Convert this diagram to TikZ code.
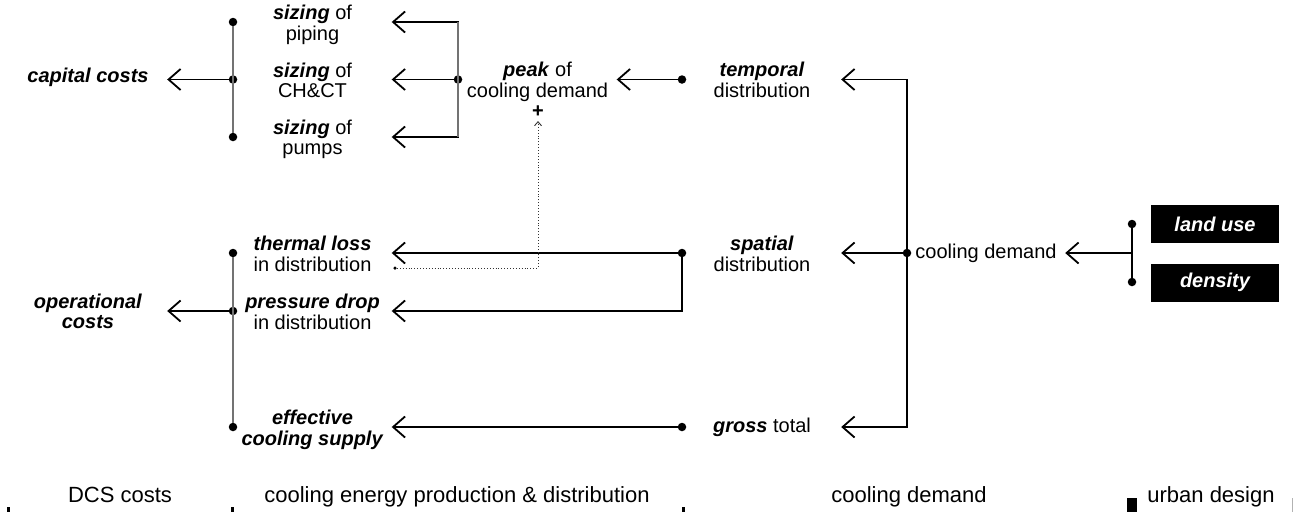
\documentclass[tikz,border=0pt]{standalone}
\usepackage{fontspec}
\setmainfont{Liberation Sans}
\usetikzlibrary{arrows.meta,calc}
\newcommand{\bfit}[1]{\textbf{\textit{#1}}}
\begin{document}
\begin{tikzpicture}[x=1pt,y=-1pt,
  lbl/.style={font=\fontsize{20}{20}\selectfont, align=center, minimum width=158pt, inner sep=0pt},
  dot/.style={circle,fill=black,inner sep=0pt,minimum size=8.5pt},
  sdot/.style={circle,fill=black,inner sep=0pt,minimum size=3.5pt},
  arr/.style={line width=1.2pt,-{Straight Barb[length=12pt,width=21pt,line width=1.8pt]}},
  vline/.style={line width=1.5pt,black!55},
  lnk/.style={line width=1.2pt},
  dotl/.style={dotted,line width=0.9pt,black!80,-{Straight Barb[length=4pt,width=7pt,line width=0.9pt]}},
  box/.style={fill=black,text=white,font=\fontsize{20}{20}\selectfont\bfseries\itshape,minimum width=128pt,minimum height=38pt,inner sep=0pt},
  bot/.style={font=\fontsize{22}{22}\selectfont,anchor=base},
  tick/.style={fill=black,draw=none}]
\useasboundingbox (0,0) rectangle (1294,512);

% text nodes
\node[lbl] (cap) at (88,78) {\strut\bfit{capital costs}};
\node[lbl] (piping) at (312.5,25.5) {\strut\bfit{sizing} of\\\strut piping};
\node[lbl] (chct) at (312.5,83) {\strut\bfit{sizing} of\\\strut CH\&CT};
\node[lbl] (pumps) at (312.5,140.5) {\strut\bfit{sizing} of\\\strut pumps};
\node[lbl] (peak) at (537.5,83) {\strut\bfit{peak} of\\\strut cooling demand};
\node[lbl] (temporal) at (762,83) {\strut\bfit{temporal}\\\strut distribution};
\node[lbl] (oper) at (88,314.5) {\strut\bfit{operational}\\\strut\bfit{costs}};
\node[lbl] (thermal) at (312.5,256.5) {\strut\bfit{thermal loss}\\\strut in distribution};
\node[lbl] (pressure) at (312.5,314.5) {\strut\bfit{pressure drop}\\\strut in distribution};
\node[lbl] (effective) at (312.5,430.5) {\strut\bfit{effective}\\\strut\bfit{cooling supply}};
\node[lbl] (spatial) at (762,256.5) {\strut\bfit{spatial}\\\strut distribution};
\node[lbl] (gross) at (762,428) {\strut\bfit{gross} total};
\node[lbl] (cd) at (986,254) {\strut cooling demand};
\node[box] (landuse) at (1215,224) {land use};
\node[box] (density) at (1215,282.5) {density};
\node[font=\fontsize{20}{20}\selectfont\bfseries,inner sep=0pt] (plus) at (538,112) {+};

% dots
\node[dot] (dA1) at (233,22) {};
\node[dot] (dA2) at (233,79.5) {};
\node[dot] (dA3) at (233,137) {};
\node[dot] (dB) at (458,79.5) {};
\node[dot] (dC1) at (682,79.5) {};
\node[dot] (dA4) at (233,253) {};
\node[dot] (dA5) at (233,311) {};
\node[dot] (dA6) at (233,427) {};
\node[dot] (dC2) at (682,253) {};
\node[dot] (dC3) at (682,427) {};
\node[dot] (dD) at (907,253) {};
\node[dot] (dE1) at (1132,224) {};
\node[dot] (dE2) at (1132,282) {};
\node[sdot] (tdot) at (395,268) {};
\coordinate (dEm) at ($(dE1)!0.5!(dE2)$);

% connectors
\draw[vline] (dA1) -- (dA3);
\draw[arr] (dA2) -- (cap.east |- dA2);
\draw[arr] (dB) |- (piping.east |- dA1);
\draw[arr] (dB) -- (chct.east |- dB);
\draw[arr] (dB) |- (pumps.east |- dA3);
\draw[vline] (dB |- dA1) -- (dB |- dA3);
\draw[arr] (dC1) -- (peak.east |- dC1);
\draw[arr] (dD) |- (temporal.east |- dC1);
\draw[arr] (dD) -- (spatial.east |- dD);
\draw[arr] (dD) |- (gross.east |- dC3);
\draw[arr] (dC2) -- (thermal.east |- dC2);
\draw[arr] (dC2) |- (pressure.east |- dA5);
\draw[arr] (dC3) -- (effective.east |- dC3);
\draw[vline] (dA4) -- (dA6);
\draw[arr] (dA5) -- (oper.east |- dA5);
\draw[lnk] (dE1) -- (dE2);
\draw[arr] (dEm) -- (cd.east |- dEm);
\draw[dotl] (tdot) -| ([yshift=-3pt]plus.south);

% bottom band
\node[bot] (l1) at (120,502) {DCS costs};
\node[bot] (l2) at (457,502) {cooling energy production \& distribution};
\node[bot] (l3) at (909,502) {cooling demand};
\node[bot] (l4) at (1211,502) {urban design};
\fill[tick] (7,507) rectangle (10,512);
\fill[tick] (231,507) rectangle (234,512);
\fill[tick] (682,507) rectangle (685,512);
\fill[tick] (1127,498) rectangle (1137,512);
\fill[black!30] (1291.5,498) rectangle (1292.5,512);
\end{tikzpicture}
\end{document}
